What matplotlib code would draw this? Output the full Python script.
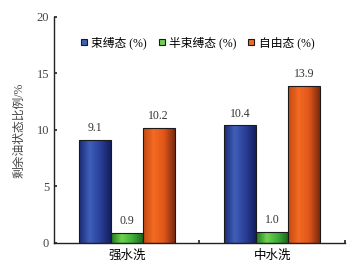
import matplotlib
matplotlib.use("Agg")
import matplotlib.pyplot as plt
import numpy as np
from matplotlib.colors import LinearSegmentedColormap
from matplotlib.lines import Line2D

FONT = ["Liberation Serif", "Noto Sans CJK SC", "DejaVu Sans"]
plt.rcParams["font.family"] = FONT

categories = ["强水洗", "中水洗"]
series_names = ["束缚态 (%)", "半束缚态 (%)", "自由态 (%)"]
bound = [9.1, 10.4]
semi_bound = [0.9, 1.0]
free = [10.2, 13.9]

# edge -> centre -> edge shading for each series
SHADES = [
    ["#1b2a78", "#3f5fb8", "#2a3f9a", "#141f5e"],
    ["#1f7a1f", "#6fd24f", "#3fb03a", "#1c6a1c"],
    ["#c44a12", "#f46a22", "#e0561a", "#7a2a10"],
]
EDGE = "#1a1a1a"

fig = plt.figure(figsize=(3.53, 2.69), dpi=100)
ax = fig.add_axes([0.153, 0.097, 0.824, 0.840])

x = np.arange(len(categories))
width = 0.22
values = [bound, semi_bound, free]
for i, (vals, shade) in enumerate(zip(values, SHADES)):
    cmap = LinearSegmentedColormap.from_list(f"s{i}", shade)
    grad = np.linspace(0, 1, 64).reshape(1, -1)
    bars = ax.bar(x + (i - 1) * width, vals, width, facecolor="none",
                  edgecolor=EDGE, linewidth=0.8, zorder=3)
    for bar, v in zip(bars, vals):
        x0 = bar.get_x()
        im = ax.imshow(grad, cmap=cmap, aspect="auto", zorder=2,
                       extent=[x0, x0 + width, 0, v])
        im.set_clip_path(bar)
        ax.text(x0 + width / 2, v + 0.5, f"{v:.1f}", ha="center", va="bottom",
                fontsize=8.5, color="#333333")

ax.set_xlim(-0.5, 1.5)
ax.set_ylim(0, 20)
ax.set_yticks([0, 5, 10, 15, 20])
ax.set_xticks([0.5, 1.5])
ax.set_xticklabels([])
ax.set_xticks(x, minor=True)
ax.set_xticklabels(categories, minor=True, fontsize=9)
ax.tick_params(axis="x", which="minor", length=0, pad=5)
ax.tick_params(axis="both", which="major", direction="in", length=2,
               width=1.2, labelsize=9, colors="#222222")
ax.tick_params(axis="y", labelcolor="#444444")
for side in ("top", "right"):
    ax.spines[side].set_visible(False)
for side in ("left", "bottom"):
    ax.spines[side].set_color("#222222")
    ax.spines[side].set_linewidth(1.0)

ax.set_ylabel("剩余油状态比例/%", fontsize=8.5, color="#444444", labelpad=8)

handles = [Line2D([], [], marker="s", linestyle="none", markersize=4,
                  markerfacecolor=s[1], markeredgecolor=EDGE, markeredgewidth=0.8)
           for s in SHADES]
ax.legend(handles, series_names, loc="upper center", bbox_to_anchor=(0.49, 0.96),
          ncol=3, frameon=False, fontsize=8.5, handletextpad=0.2, columnspacing=0.9,
          handlelength=0.8)

fig.savefig("out.png", dpi=100)
